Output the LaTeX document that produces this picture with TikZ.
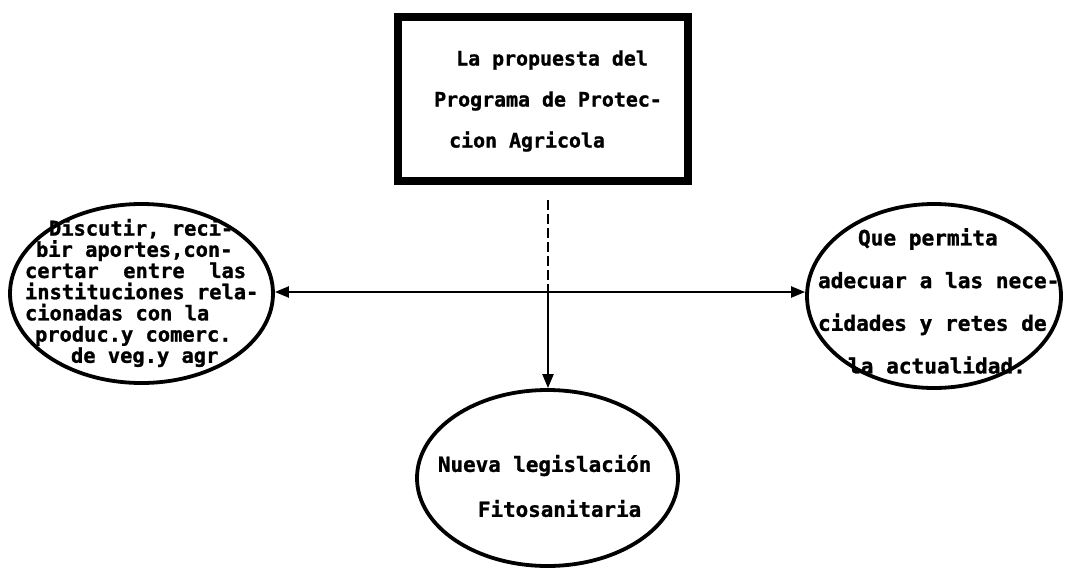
\documentclass[tikz,border=0pt]{standalone}
\usepackage{fontspec}
\newfontfamily\dmono[BoldFeatures={FakeBold=1.2}]{DejaVu Sans Mono}
\usetikzlibrary{shapes.geometric,arrows.meta}
\begin{document}
\begin{tikzpicture}[x=1pt,y=-1pt,
  oval/.style={ellipse, draw, line width=3.8pt, inner sep=0pt},
  txt/.style={align=left, inner sep=0pt},
  link/.style={line width=2.2pt},
  tip/.style={-{Triangle[length=14pt,width=11pt]}},
  both/.style={{Triangle[length=14pt,width=11pt]}-{Triangle[length=14pt,width=11pt]}}]
\useasboundingbox (0,0) rectangle (1066,573);
% shapes
\node[draw, line width=8pt, minimum width=290pt, minimum height=164pt, inner sep=0pt] (prop) at (543,99) {};
\node[oval, minimum width=263pt, minimum height=179pt] (disc) at (141.5,293.5) {};
\node[oval, minimum width=254pt, minimum height=184pt] (adec) at (934,296) {};
\node[oval, minimum width=261pt, minimum height=176pt] (fito) at (547.5,478) {};
% texts
\node[txt, font=\dmono\bfseries\fontsize{19.9}{41}\selectfont] (propt) at (548,101)
  {\hspace*{22pt}La propuesta del\\Programa de Protec-\\\hspace*{15pt}cion Agricola};
\node[txt, font=\dmono\bfseries\fontsize{20.4}{21.2}\selectfont] (disct) at (141.7,293)
  {\hspace*{24pt}Discutir, reci-\\\hspace*{11pt}bir aportes,con-\\certar~~entre~~las\\instituciones rela-\\cionadas con la\\\hspace*{10pt}produc.y comerc.\\\hspace*{46pt}de veg.y agr};
\node[txt, font=\dmono\bfseries\fontsize{21.1}{42.7}\selectfont] (adect) at (938.7,301)
  {\hspace*{40pt}Que permita\\adecuar a las nece-\\cidades y retes de\\\hspace*{30pt}la actualidad.};
\node[txt, font=\dmono\bfseries\fontsize{20.85}{45}\selectfont] (fitot) at (544.7,486)
  {Nueva legislación\\\hspace*{40pt}Fitosanitaria};
% connectors
\coordinate (cross) at (548,292);
\draw[link, dash pattern=on 10pt off 4pt, shorten <=15pt] (prop.south -| cross) -- (cross);
\draw[link, tip] (cross) -- (fito.north -| cross);
\draw[link, both] (disc.east |- cross) -- (adec.west |- cross);
\end{tikzpicture}
\end{document}
